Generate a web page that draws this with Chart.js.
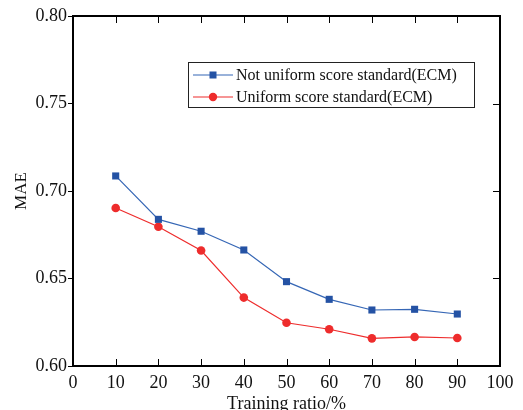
<!DOCTYPE html>
<html>
<head>
<meta charset="utf-8">
<script src="https://cdn.jsdelivr.net/npm/chart.js@4"></script>
<style>
  html, body { margin: 0; padding: 0; background: #fff; }
  #wrap { width: 523px; height: 410px; }
</style>
</head>
<body>
<div id="wrap"><canvas id="chart" width="523" height="410"></canvas></div>
<script>
// Data
const ratios = [10, 20, 30, 40, 50, 60, 70, 80, 90];
const notUniform = [0.7086, 0.6838, 0.6770, 0.6663, 0.6482, 0.6381, 0.6320, 0.6324, 0.6297];
const uniform = [0.6903, 0.6796, 0.6660, 0.6391, 0.6247, 0.6210, 0.6158, 0.6166, 0.6160];
const seriesNames = ['Not uniform score standard(ECM)', 'Uniform score standard(ECM)'];
const xTicks = [0, 10, 20, 30, 40, 50, 60, 70, 80, 90, 100];
const yTicks = [0.60, 0.65, 0.70, 0.75, 0.80];

const FONT = '"Liberation Serif", "Times New Roman", serif';
const BLUE = '#2452a4';
const BLUE_LINE = '#3566b5';
const RED = '#ee2c2c';

function toPoints(values) {
    return ratios.map((r, i) => ({ x: r, y: values[i] }));
}

// frame, inward ticks and the boxed legend
const framePlugin = {
    id: 'frame',
    afterDraw(chart) {
        const ctx = chart.ctx;
        const area = chart.chartArea;
        const xs = chart.scales.x;
        const ys = chart.scales.y;
        ctx.save();
        ctx.strokeStyle = '#000';
        ctx.lineWidth = 2;
        ctx.strokeRect(area.left, area.top, area.right - area.left, area.bottom - area.top);

        ctx.lineWidth = 1;
        ctx.beginPath();
        ratios.forEach(v => {
            const px = Math.round(xs.getPixelForValue(v)) + 0.5;
            ctx.moveTo(px, area.top);
            ctx.lineTo(px, area.top + 7);
            ctx.moveTo(px, area.bottom);
            ctx.lineTo(px, area.bottom - 7);
        });
        yTicks.slice(1, -1).forEach(v => {
            const py = Math.round(ys.getPixelForValue(v)) + 0.5;
            ctx.moveTo(area.right, py);
            ctx.lineTo(area.right - 7, py);
        });
        ctx.stroke();

        // legend
        const box = { x: 188.5, y: 62.5, w: 286, h: 45 };
        ctx.fillStyle = '#fff';
        ctx.fillRect(box.x, box.y, box.w, box.h);
        ctx.strokeStyle = '#222';
        ctx.lineWidth = 1;
        ctx.strokeRect(box.x, box.y, box.w, box.h);

        const rows = [
            { y: 75, color: BLUE, line: BLUE_LINE, style: 'rect' },
            { y: 97, color: RED, line: RED, style: 'circle' }
        ];
        ctx.font = '16px ' + FONT;
        ctx.textBaseline = 'middle';
        rows.forEach((row, i) => {
            ctx.strokeStyle = row.line;
            ctx.lineWidth = 1.2;
            ctx.beginPath();
            ctx.moveTo(193, row.y);
            ctx.lineTo(233, row.y);
            ctx.stroke();
            ctx.fillStyle = row.color;
            if (row.style === 'rect') {
                ctx.fillRect(213 - 3.5, row.y - 3.5, 7, 7);
            } else {
                ctx.beginPath();
                ctx.arc(213, row.y, 4.2, 0, Math.PI * 2);
                ctx.fill();
            }
            ctx.fillStyle = '#111';
            ctx.fillText(seriesNames[i], 236, row.y + 1);
        });
        ctx.restore();
    }
};

const ctx = document.getElementById('chart').getContext('2d');
new Chart(ctx, {
    type: 'line',
    data: {
        datasets: [
            {
                label: seriesNames[0],
                data: toPoints(notUniform),
                borderColor: BLUE_LINE,
                backgroundColor: BLUE,
                pointBackgroundColor: BLUE,
                pointBorderColor: BLUE,
                borderWidth: 1.2,
                pointStyle: 'rect',
                pointRadius: 5,
                pointBorderWidth: 0,
                tension: 0
            },
            {
                label: seriesNames[1],
                data: toPoints(uniform),
                borderColor: RED,
                backgroundColor: RED,
                pointBackgroundColor: RED,
                pointBorderColor: RED,
                borderWidth: 1.2,
                pointStyle: 'circle',
                pointRadius: 4.3,
                pointBorderWidth: 0,
                tension: 0
            }
        ]
    },
    options: {
        responsive: false,
        animation: false,
        layout: { padding: { left: 0, top: 16, right: 23, bottom: 0 } },
        plugins: {
            legend: { display: false },
            tooltip: { enabled: false }
        },
        scales: {
            x: {
                type: 'linear',
                min: 0,
                max: 100,
                afterBuildTicks: scale => { scale.ticks = xTicks.map(v => ({ value: v })); },
                afterFit: scale => { scale.height = 44; },
                grid: { drawOnChartArea: false, drawTicks: false },
                border: { display: false },
                ticks: {
                    color: '#111',
                    font: { family: FONT, size: 18 },
                    padding: 6,
                    maxRotation: 0,
                    autoSkip: false
                },
                title: {
                    display: true,
                    text: 'Training ratio/%',
                    color: '#111',
                    font: { family: FONT, size: 18, lineHeight: 1 },
                    padding: { top: 0, bottom: -3 }
                }
            },
            y: {
                min: 0.6,
                max: 0.8,
                afterBuildTicks: scale => { scale.ticks = yTicks.map(v => ({ value: v })); },
                afterFit: scale => { scale.width = 73; },
                grid: { drawOnChartArea: false, drawTicks: true, tickLength: 5, color: '#000', tickWidth: 1 },
                border: { display: false },
                ticks: {
                    color: '#111',
                    font: { family: FONT, size: 18 },
                    padding: 1,
                    callback: v => v.toFixed(2)
                },
                title: {
                    display: true,
                    text: 'MAE',
                    color: '#111',
                    font: { family: FONT, size: 17 },
                    padding: { top: 11, bottom: 0 }
                }
            }
        }
    },
    plugins: [framePlugin]
});
</script>
</body>
</html>
